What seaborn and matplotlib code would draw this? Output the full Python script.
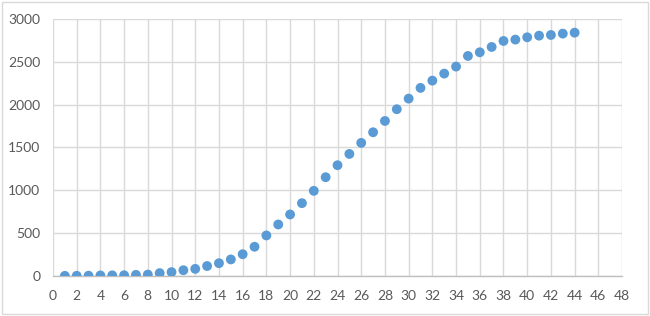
import pandas as pd
import numpy as np
import seaborn as sns
import matplotlib.pyplot as plt
from matplotlib.patches import Rectangle

# values
day = list(range(1, 45))
total = [0, 1, 2, 5, 6, 7, 12, 15, 32, 44,
         66, 82, 115, 148, 192, 253, 340, 472, 600, 717,
         849, 993, 1152, 1292, 1424, 1553, 1677, 1809, 1946, 2070,
         2195, 2280, 2362, 2444, 2568, 2611, 2673, 2743, 2759, 2786,
         2805, 2813, 2829, 2840]
x_ticks = list(range(0, 50, 2))
y_ticks = list(range(0, 3500, 500))

df = pd.DataFrame({"day": day, "total": total})

sns.set_style("white")
plt.rcParams['font.family'] = ['Lato', 'DejaVu Sans']

fig = plt.figure(figsize=(6.5, 3.16), dpi=100)
ax = fig.add_axes([0.0815, 0.127, 0.957 - 0.0815, 0.813])

sns.scatterplot(data=df, x="day", y="total", ax=ax,
                color="#5b9bd5", s=50, edgecolor="none", zorder=3)

ax.set_xlim(0, 48)
ax.set_ylim(0, 3000)
ax.set_xticks(x_ticks)
ax.set_yticks(y_ticks)
ax.grid(True, color="#d9d9d9", linewidth=1)
ax.set_axisbelow(True)
ax.set_xlabel("")
ax.set_ylabel("")
ax.tick_params(axis="both", length=0, labelsize=10, labelcolor="#595959")
ax.tick_params(axis="x", pad=10)
ax.tick_params(axis="y", pad=9)

for side in ["top", "right", "left"]:
    ax.spines[side].set_visible(False)
ax.spines["bottom"].set_color("#bfbfbf")
ax.spines["bottom"].set_linewidth(1)

# light frame around the whole chart
fig.patches.append(Rectangle((0.003, 0.005), 0.994, 0.99, transform=fig.transFigure,
                             fill=False, edgecolor="#d9d9d9", linewidth=1))

fig.savefig("out.png", dpi=100)
